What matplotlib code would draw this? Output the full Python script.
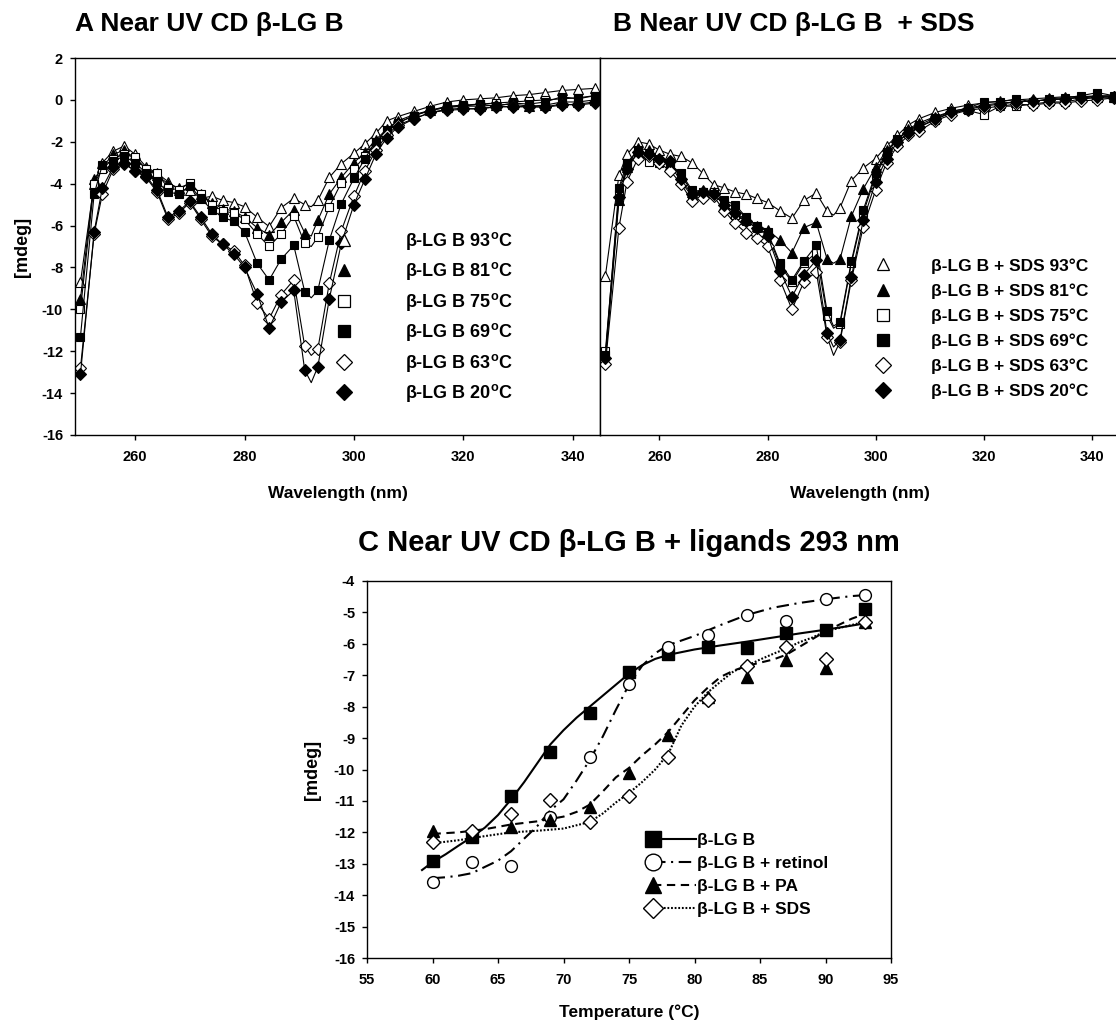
import numpy as np
import matplotlib
matplotlib.use("Agg")
import matplotlib.pyplot as plt
from matplotlib.lines import Line2D
from matplotlib.legend_handler import HandlerLine2D

plt.rcParams['font.family'] = ['Liberation Sans', 'DejaVu Sans']
plt.rcParams['font.weight'] = 'bold'
plt.rcParams['mathtext.fontset'] = 'custom'
plt.rcParams['mathtext.rm'] = 'Liberation Sans:bold'
plt.rcParams['mathtext.bf'] = 'Liberation Sans:bold'
plt.rcParams['mathtext.it'] = 'Liberation Sans:bold'
plt.rcParams['lines.scale_dashes'] = False
plt.rcParams['axes.unicode_minus'] = False

# ---------------- data: panels A and B (near UV CD spectra) ----------------
wavelength = [250, 252.5, 254, 256, 258, 260, 262, 264, 266, 268, 270, 272, 274, 276, 278, 280,
              282.3, 284.5, 286.7, 289, 291, 292.2, 293.4, 295.5, 297.7, 300, 302, 304, 306, 308,
              311, 314, 317, 320, 323, 326, 329, 332, 335, 338, 341, 344]

A_93 = [-8.7, -4.0, -3.0, -2.45, -2.2, -2.6, -3.2, -3.5, -3.9, -4.3, -4.3, -4.7, -4.6, -4.8, -4.9, -5.1,
        -5.6, -6.05, -5.15, -4.7, -5.0, -5.1, -4.8, -3.7, -3.05, -2.55, -2.1, -1.6, -1.0, -0.8,
        -0.55, -0.3, -0.1, 0.0, 0.05, 0.1, 0.2, 0.25, 0.35, 0.45, 0.5, 0.55]
A_81 = [-9.5, -3.8, -3.2, -2.6, -2.4, -2.8, -3.3, -3.6, -4.0, -4.2, -4.0, -4.5, -4.9, -5.2, -5.3, -5.6,
        -6.1, -6.45, -5.85, -5.25, -6.35, -6.5, -5.75, -4.5, -3.7, -3.0, -2.5, -1.9, -1.4, -1.0,
        -0.7, -0.5, -0.35, -0.3, -0.3, -0.25, -0.2, -0.3, -0.25, -0.1, -0.1, 0.0]
A_75 = [-10.0, -4.0, -3.3, -2.8, -2.6, -2.75, -3.3, -3.5, -4.2, -4.3, -3.95, -4.5, -5.0, -5.3, -5.4, -5.7,
        -6.4, -7.0, -6.4, -5.55, -6.85, -7.0, -6.55, -5.1, -3.95, -3.3, -2.7, -2.0, -1.5, -1.1,
        -0.75, -0.5, -0.35, -0.3, -0.2, -0.15, -0.1, -0.05, 0.0, 0.05, 0.1, 0.2]
A_69 = [-11.3, -4.5, -3.1, -2.9, -2.7, -3.0, -3.5, -3.9, -4.4, -4.5, -4.1, -4.7, -5.25, -5.6, -5.8, -6.3,
        -7.8, -8.6, -7.6, -6.95, -9.15, -9.45, -9.1, -6.7, -4.95, -3.75, -2.8, -2.0, -1.5, -1.1,
        -0.75, -0.5, -0.3, -0.25, -0.2, -0.3, -0.15, -0.2, -0.1, 0.15, 0.05, 0.2]
A_63 = [-12.8, -6.4, -4.5, -3.3, -3.05, -3.4, -3.7, -4.4, -5.7, -5.4, -4.9, -5.7, -6.5, -6.9, -7.2, -7.9,
        -9.7, -10.45, -9.3, -8.6, -11.75, -12.2, -11.9, -8.75, -6.25, -4.6, -3.4, -2.4, -1.7, -1.2,
        -0.9, -0.6, -0.5, -0.45, -0.4, -0.35, -0.3, -0.35, -0.33, -0.2, -0.25, -0.15]
A_20 = [-13.1, -6.3, -4.2, -3.2, -3.0, -3.4, -3.65, -4.3, -5.6, -5.3, -4.85, -5.6, -6.4, -6.9, -7.35, -8.0,
        -9.25, -10.9, -9.65, -9.1, -12.9, -13.5, -12.75, -9.5, -6.85, -5.0, -3.8, -2.6, -1.8, -1.3,
        -0.9, -0.6, -0.45, -0.4, -0.45, -0.3, -0.35, -0.3, -0.35, -0.25, -0.2, -0.1]

B_93 = [-8.4, -3.6, -2.6, -2.0, -2.1, -2.4, -2.6, -2.7, -3.0, -3.5, -4.05, -4.2, -4.4, -4.5, -4.7, -4.9,
        -5.3, -5.65, -4.8, -4.45, -5.3, -5.5, -5.15, -3.85, -3.25, -2.8, -2.2, -1.7, -1.2, -0.9,
        -0.6, -0.4, -0.25, -0.15, -0.05, 0.0, 0.05, 0.1, 0.15, 0.15, 0.2, 0.2]
B_81 = [-12.4, -4.8, -3.2, -2.3, -2.4, -2.8, -3.1, -3.6, -4.4, -4.3, -4.4, -5.0, -5.4, -5.7, -6.0, -6.2,
        -6.7, -7.3, -6.1, -5.85, -7.6, -7.8, -7.6, -5.55, -4.25, -3.2, -2.4, -1.9, -1.4, -1.1,
        -0.8, -0.55, -0.4, -0.25, -0.15, -0.1, -0.05, 0.0, 0.05, 0.15, 0.15, 0.15]
B_75 = [-12.0, -4.5, -3.1, -2.6, -2.95, -3.0, -3.1, -3.9, -4.6, -4.4, -4.4, -5.1, -5.5, -5.8, -6.1, -6.4,
        -7.9, -8.7, -7.8, -7.3, -10.3, -10.9, -10.7, -7.8, -5.4, -3.6, -2.6, -2.0, -1.6, -1.3,
        -0.95, -0.6, -0.5, -0.7, -0.3, -0.3, -0.2, -0.1, -0.1, 0.05, 0.1, 0.1]
B_69 = [-12.2, -4.2, -3.0, -2.4, -2.6, -2.9, -3.1, -3.5, -4.3, -4.4, -4.5, -4.8, -5.0, -5.6, -6.0, -6.3,
        -7.8, -8.6, -7.7, -6.95, -10.1, -10.8, -10.6, -7.7, -5.25, -3.5, -2.5, -1.85, -1.5, -1.2,
        -0.85, -0.55, -0.4, -0.1, -0.1, 0.05, -0.1, 0.05, 0.1, 0.2, 0.35, 0.2]
B_63 = [-12.6, -6.1, -3.9, -2.8, -2.7, -3.0, -3.4, -4.0, -4.85, -4.7, -4.6, -5.3, -5.9, -6.35, -6.6, -7.0,
        -8.6, -10.0, -8.7, -8.2, -11.3, -12.2, -11.55, -8.6, -6.05, -4.3, -3.0, -2.2, -1.7, -1.5,
        -1.0, -0.7, -0.5, -0.4, -0.3, -0.2, -0.25, -0.15, -0.15, -0.05, 0.0, 0.1]
B_20 = [-12.3, -4.65, -3.3, -2.5, -2.6, -2.8, -2.9, -3.8, -4.5, -4.4, -4.5, -5.0, -5.4, -5.8, -6.1, -6.5,
        -8.15, -9.4, -8.35, -7.65, -11.15, -11.8, -11.45, -8.45, -5.75, -3.9, -2.8, -2.0, -1.6, -1.3,
        -0.9, -0.6, -0.45, -0.3, -0.2, -0.1, -0.05, 0.0, 0.05, 0.1, 0.15, 0.15]

temps_label = ['93', '81', '75', '69', '63', '20']

# ---------------- data: panel C (293 nm vs temperature) ----------------
temperature = [60, 63, 66, 69, 72, 75, 78, 81, 84, 87, 90, 93]
lgb = [-12.9, -12.16, -10.84, -9.45, -8.19, -6.89, -6.33, -6.11, -6.14, -5.64, -5.56, -4.9]
lgb_retinol = [-13.59, -12.95, -13.07, -11.5, -9.61, -7.28, -6.11, -5.72, -5.08, -5.27, -4.58, -4.45]
lgb_pa = [-11.95, -12.1, -11.82, -11.6, -11.2, -10.1, -8.9, -7.7, -7.05, -6.51, -6.76, -5.3]
lgb_sds = [-12.3, -11.95, -11.43, -10.97, -11.68, -10.83, -9.61, -7.79, -6.7, -6.11, -6.49, -5.31]

fit_lgb_t = [59.2, 60, 61, 62, 63, 64, 65, 66, 67, 68, 69, 70, 71, 72, 73, 74, 75, 76, 77, 78,
             80, 82, 84, 86, 88, 90, 92, 93]
fit_lgb = [-13.2, -12.95, -12.7, -12.42, -12.15, -11.85, -11.45, -10.95, -10.4, -9.8, -9.2, -8.75,
           -8.35, -8.0, -7.65, -7.3, -6.95, -6.68, -6.48, -6.35, -6.18, -6.05, -5.93, -5.8, -5.67,
           -5.55, -5.42, -5.35]
fit_ret_t = [60, 61, 62, 63, 64, 65, 66, 67, 68, 69, 70, 71, 72, 73, 74, 75, 76, 77, 78, 80, 82,
             84, 86, 88, 90, 92, 93]
fit_ret = [-13.46, -13.43, -13.38, -13.3, -13.1, -12.9, -12.6, -12.2, -11.8, -11.3, -10.95, -10.35,
           -9.7, -8.95, -8.1, -7.3, -6.7, -6.3, -6.04, -5.75, -5.4, -5.08, -4.85, -4.7, -4.58,
           -4.48, -4.45]
fit_pa_t = [60, 62, 64, 66, 68, 70, 71, 72, 73, 74, 75, 76, 77, 78, 79, 80, 81, 82, 83, 84, 85,
            86, 87, 88, 89, 90, 91, 92, 93]
fit_pa = [-12.05, -12.0, -11.9, -11.75, -11.65, -11.5, -11.35, -11.12, -10.7, -10.25, -9.95, -9.55,
          -9.2, -8.8, -8.3, -7.8, -7.4, -7.05, -6.85, -6.7, -6.6, -6.5, -6.35, -6.1, -5.85, -5.6,
          -5.4, -5.2, -5.05]
fit_sds_t = [60, 62, 64, 66, 68, 70, 72, 73, 74, 75, 76, 77, 78, 79, 80, 81, 82, 83, 84, 85, 86,
             87, 88, 89, 90, 91, 92, 93]
fit_sds = [-12.35, -12.25, -12.12, -12.0, -11.95, -11.88, -11.67, -11.4, -11.05, -10.75, -10.4,
           -10.0, -9.5, -8.6, -8.0, -7.55, -7.2, -6.87, -6.7, -6.5, -6.32, -6.15, -5.95, -5.8,
           -5.6, -5.5, -5.4, -5.3]

# ---------------- figure ----------------
W, H = 1116, 1021
fig = plt.figure(figsize=(W / 100, H / 100), dpi=100)

def fx(px):
    return px / W

def fy(py):
    return 1 - py / H

axA = fig.add_axes([fx(75), fy(435), fx(525), 377 / H])
axB = fig.add_axes([fx(600), fy(435), fx(519), 377 / H])
axC = fig.add_axes([fx(367), fy(958), fx(524), 377 / H])

styles = [('^', 'white'), ('^', 'black'), ('s', 'white'), ('s', 'black'), ('D', 'white'), ('D', 'black')]
msizes = {'^': 7.0, 's': 6.3, 'D': 5.9}
mevery = [i for i in range(len(wavelength)) if i != 21]

def style_ticks(ax):
    ax.tick_params(direction='out', length=3.6, width=1, labelsize=10.5)
    ax.tick_params(axis='x', pad=7)
    ax.tick_params(axis='y', pad=5)
    for s in ax.spines.values():
        s.set_linewidth(1.0)

def spectra(ax, series):
    for (mk, fc), ys in zip(styles, series):
        ax.plot(wavelength, ys, color='black', lw=0.8, marker=mk, ms=msizes[mk], mfc=fc,
                mec='black', mew=0.8, markevery=mevery)
    ax.set_xlim(249, 345)
    ax.set_ylim(-16, 2)
    ax.set_xticks([260, 280, 300, 320, 340])
    style_ticks(ax)
    ax.set_xlabel('Wavelength (nm)', fontsize=12.5, fontweight='bold', labelpad=16)

spectra(axA, [A_93, A_81, A_75, A_69, A_63, A_20])
spectra(axB, [B_93, B_81, B_75, B_69, B_63, B_20])
axA.set_yticks(np.arange(-16, 3, 2))
axA.set_ylabel('[mdeg]', fontsize=13, fontweight='bold', labelpad=8)
axB.tick_params(axis='y', left=False, labelleft=False)
axB.spines['right'].set_visible(False)

def proxies():
    return [Line2D([], [], ls='none', marker=mk, ms=msizes[mk] * 1.3, mfc=fc, mec='black', mew=0.9)
            for mk, fc in styles]

labelsA = ['β-LG B %s$^{\\mathbf{o}}$C' % t for t in temps_label]
labelsB = ['β-LG B + SDS %s°C' % t for t in temps_label]
axA.legend(proxies(), labelsA, loc='upper left', bbox_to_anchor=(fx(335), fy(230)),
           bbox_transform=fig.transFigure, frameon=False, fontsize=13, handlelength=1.0,
           handletextpad=2.9, labelspacing=0.47, borderpad=0, borderaxespad=0)
axB.legend(proxies(), labelsB, loc='upper left', bbox_to_anchor=(fx(874), fy(258)),
           bbox_transform=fig.transFigure, frameon=False, fontsize=12.5, handlelength=1.0,
           handletextpad=2.3, labelspacing=0.55, borderpad=0, borderaxespad=0)

fig.text(fx(75), fy(24), 'A Near UV CD β-LG B', fontsize=19, fontweight='bold', va='center', ha='left')
fig.text(fx(613), fy(24), 'B Near UV CD β-LG B  + SDS', fontsize=19, fontweight='bold', va='center', ha='left')
fig.text(fx(629), fy(543), 'C Near UV CD β-LG B + ligands 293 nm', fontsize=21, fontweight='bold',
         va='center', ha='center')

# ---------------- panel C ----------------
lw = 1.5
mk = dict(color='black', ls='none', ms=8.5, mec='black', mew=1.0)
axC.plot(fit_lgb_t, fit_lgb, color='black', lw=lw, ls='-')
axC.plot(fit_ret_t, fit_ret, color='black', lw=lw, dashes=(9, 4, 1.5, 4))
axC.plot(fit_pa_t, fit_pa, color='black', lw=lw, dashes=(6, 4))
axC.plot(fit_sds_t, fit_sds, color='black', lw=lw, dashes=(1.3, 1.3))
axC.plot(temperature, lgb, marker='s', mfc='black', **mk)
axC.plot(temperature, lgb_retinol, marker='o', mfc='white', **mk)
axC.plot(temperature, lgb_pa, marker='^', mfc='black', **mk)
axC.plot(temperature, lgb_sds, marker='D', mfc='white', **{**mk, 'ms': 7.5})

axC.set_xlim(55, 95)
axC.set_ylim(-16, -4)
axC.set_xticks(np.arange(55, 96, 5))
axC.set_yticks(np.arange(-16, -3, 1))
style_ticks(axC)
axC.set_xlabel('Temperature (°C)', fontsize=12.5, fontweight='bold', labelpad=13)
axC.set_ylabel('[mdeg]', fontsize=13, fontweight='bold', labelpad=9)


class MarkerLeft(HandlerLine2D):
    def create_artists(self, legend, orig_handle, xdescent, ydescent, width, height, fontsize, trans):
        y = height / 2 - ydescent
        line = Line2D([-xdescent, -xdescent + width], [y, y])
        self.update_prop(line, orig_handle, legend)
        line.set_marker('None')
        mark = Line2D([-xdescent], [y])
        self.update_prop(mark, orig_handle, legend)
        mark.set_linestyle('None')
        line.set_transform(trans)
        mark.set_transform(trans)
        return [line, mark]


hC = [Line2D([], [], color='black', lw=lw, ls='-', marker='s', ms=11, mfc='black', mec='black'),
      Line2D([], [], color='black', lw=lw, dashes=(9, 4, 1.5, 4), marker='o', ms=12, mfc='white', mec='black'),
      Line2D([], [], color='black', lw=lw, dashes=(6, 4), marker='^', ms=12, mfc='black', mec='black'),
      Line2D([], [], color='black', lw=lw, dashes=(1.3, 1.3), marker='D', ms=10.5, mfc='white', mec='black')]
labC = ['β-LG B', 'β-LG B + retinol', 'β-LG B + PA', 'β-LG B + SDS']
axC.legend(hC, labC, loc='upper left', bbox_to_anchor=(fx(653), fy(833)), bbox_transform=fig.transFigure,
           frameon=False, fontsize=12.5, handlelength=2.45, handletextpad=0.1, labelspacing=0.45,
           borderpad=0, borderaxespad=0, handler_map={Line2D: MarkerLeft()})

fig.savefig('out.png', dpi=100)
